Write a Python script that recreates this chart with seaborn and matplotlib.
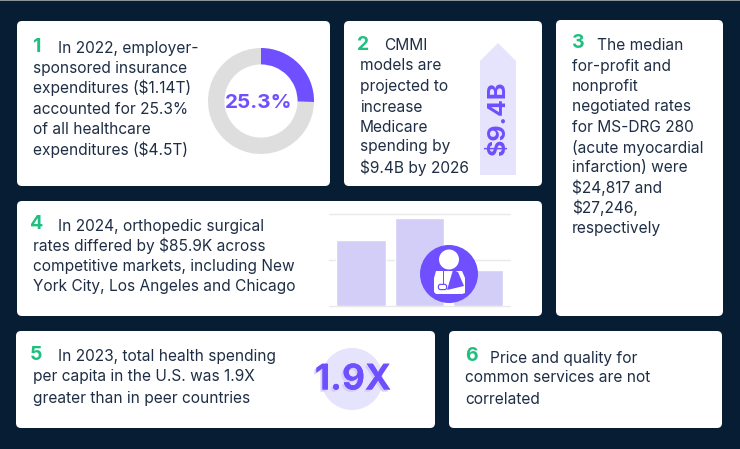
import matplotlib
matplotlib.use("Agg")
import matplotlib.pyplot as plt
from matplotlib.patches import FancyBboxPatch, Circle, Polygon, Rectangle
import matplotlib.patheffects as pe
import seaborn as sns
import pandas as pd

sns.set_theme(style="white")
plt.rcParams['font.family'] = ['Inter', 'DejaVu Sans']

share_labels = ["Employer-sponsored", "Other"]
share_values = [25.3, 74.7]
market_labels = ["New York City", "Los Angeles", "Chicago"]
market_values = [72, 96, 39]
card1 = ["In 2022, employer-", "sponsored insurance", "expenditures ($1.14T)", "accounted for 25.3%", "of all healthcare", "expenditures ($4.5T)"]
card2 = ["CMMI", "models are", "projected to", "increase", "Medicare", "spending by", "$9.4B by 2026"]
card3 = ["The median", "for-profit and", "nonprofit", "negotiated rates", "for MS-DRG 280", "(acute myocardial", "infarction) were", "$24,817 and", "$27,246,", "respectively"]
card4 = ["In 2024, orthopedic surgical", "rates differed by $85.9K across", "competitive markets, including New", "York City, Los Angeles and Chicago"]
card5 = ["In 2023, total health spending", "per capita in the U.S. was 1.9X", "greater than in peer countries"]
card6 = ["Price and quality for", "common services are not", "correlated"]

W, H = 740, 449
NAVY, INK, GREEN, PURPLE, LILAC, PALE, GREY = "#071D33", "#1F2E45", "#1FBF80", "#6F4FFF", "#D3CEF8", "#E6E3FC", "#DEDEDE"
fig = plt.figure(figsize=(W/100, H/100), dpi=100, facecolor=NAVY)

def px_axes(x0, y0, x1, y1, z):
    ax = fig.add_axes([x0/W, 1-y1/H, (x1-x0)/W, (y1-y0)/H], zorder=z)
    ax.patch.set_alpha(0)
    return ax

bg = px_axes(0, 0, W, H, 0)
bg.set_xlim(0, W); bg.set_ylim(H, 0); bg.axis("off")
bg.add_patch(Rectangle((0, 0), W, 1, color="#8A929A", lw=0))

def card(x0, y0, x1, y1):
    bg.add_patch(FancyBboxPatch((x0+5, y0+5), x1-x0-10, y1-y0-10,
                                boxstyle="round,pad=5,rounding_size=5", fc="white", ec="none"))

FS = 11.15
def block(lines, number, xn, yn, x, x1st, ys):
    bg.text(xn, yn+6, number, color=GREEN, fontsize=14, fontweight="bold", va="baseline")
    for i, (line, y) in enumerate(zip(lines, ys)):
        bg.text(x1st if i == 0 else x, y+5.5, line, color=INK, fontsize=FS, va="baseline")

card(17, 21, 330, 186); card(344, 21, 542, 186); card(556, 20, 723, 316)
card(17, 201, 542, 316); card(16, 331, 435, 428); card(449, 331, 722, 428)

block(card1, "1", 32, 46, 33, 58, [47, 67, 88, 108, 129, 149])
block(card2, "2", 357, 44, 360, 384, [45, 65, 85, 106, 126, 146, 167])
block(card3, "3", 572, 42, 572, 597, [44, 65, 85, 106, 126, 147, 167, 187, 208, 228])
block(card4, "4", 30, 223, 33, 58, [225, 245, 265, 286])
block(card5, "5", 30, 354, 33, 58, [356, 376, 397])
block(card6, "6", 465, 355, 465, 490, [357, 377, 398])

# donut
dn = px_axes(208, 48, 314, 154, 1)
dn.pie(share_values, colors=[PURPLE, GREY], startangle=90, counterclock=False, radius=1,
       wedgeprops=dict(width=0.31, linewidth=0))
dn.set_xlim(-1, 1); dn.set_ylim(-1, 1)
bg.text(258.5, 103, "25.3%", color=PURPLE, fontsize=14.8, fontweight="bold", ha="center", va="center")

# arrow
bg.add_patch(Polygon([(480, 175), (480, 61), (498, 43), (516, 61), (516, 175)], fc=PALE, ec="none"))
bg.text(498, 117.5, "$9.4B", color=PURPLE, fontsize=18, fontweight="bold", rotation=90, ha="center", va="center")

# bars
bar_ax = px_axes(329, 214, 510, 306, 1)
df = pd.DataFrame({"market": market_labels, "value": market_values})
bar_ax.set_axisbelow(True)
sns.barplot(data=df, x="market", y="value", color=LILAC, saturation=1, width=0.85, ax=bar_ax)
bar_ax.set_xlim(-0.547, 2.547); bar_ax.set_ylim(0, 100)
bar_ax.set_yticks([0, 50, 100]); bar_ax.set_xticks([])
bar_ax.set_xlabel(""); bar_ax.set_ylabel("")
bar_ax.tick_params(left=False, labelleft=False)
bar_ax.grid(axis="y", color="#E9E9E9", lw=1, clip_on=False)
sns.despine(ax=bar_ax, left=True, bottom=True)

# icon
ic = px_axes(0, 0, W, H, 2)
ic.set_xlim(0, W); ic.set_ylim(H, 0); ic.axis("off")
ic.add_patch(Circle((449, 274), 29, fc=PURPLE, ec="none"))
ic.add_patch(Circle((449, 259.5), 10, fc="white", ec="none"))
ic.add_patch(Polygon([(436, 271), (462, 271), (465, 278), (465, 293), (462, 294), (436, 294), (434, 292), (434, 278)], fc="white", ec="none"))
ic.add_patch(Polygon([(453, 270), (458, 272), (464, 286), (447, 290)], fc=PURPLE, ec="none"))
ic.add_patch(Rectangle((442.5, 271), 1.6, 14, fc=PURPLE, ec="none"))
ic.add_patch(FancyBboxPatch((439, 285), 7, 4, boxstyle="round,pad=0.6,rounding_size=2", fc="white", ec=PURPLE, lw=0.9))

# 1.9X
bg.add_patch(Circle((352, 379), 31, fc=PALE, ec="none"))
bg.text(353, 380, "1.9X", color=PURPLE, fontsize=25.5, fontweight="bold", ha="center", va="center",
        path_effects=[pe.withSimplePatchShadow(offset=(-1.5, -1.5), shadow_rgbFace=LILAC, alpha=1), pe.Normal()])

fig.savefig("out.png", dpi=100, facecolor=NAVY)
